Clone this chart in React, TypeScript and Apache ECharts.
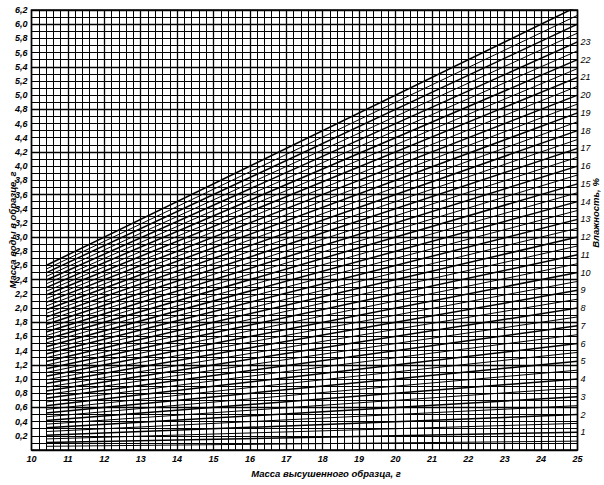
import React, { useEffect, useRef } from "react";
import * as echarts from "echarts";

// Moisture lines of the nomogram, % (water mass = moisture% × dry mass / 100)
const moisturePercents: number[] = [
  0.5, 1, 1.5, 2, 2.5, 3, 3.5, 4, 4.5, 5, 5.5, 6, 6.5, 7, 7.5, 8, 8.5, 9, 9.5, 10,
  10.5, 11, 11.5, 12, 12.5, 13, 13.5, 14, 14.5, 15, 15.5, 16, 16.5, 17, 17.5, 18,
  18.5, 19, 19.5, 20, 20.5, 21, 21.5, 22, 22.5, 23, 23.5, 24, 24.5, 25,
];
// Lines that carry a percent label on the right
const labeledPercents: number[] = [
  1, 2, 3, 4, 5, 6, 7, 8, 9, 10, 11, 12, 13, 14, 15, 16, 17, 18, 19, 20, 21, 22, 23,
];
// Dry-mass range over which the lines are drawn, g
const dryMassStart = 10.4;
const dryMassEnd = 25;
// Axis ranges
const xMin = 10;
const xMax = 25;
const yMin = 0;
const yMax = 6.2;

const xName = "Масса высушенного образца, г";
const yName = "Масса воды в образце, г";
const rightName = "Влажность, %";

const FONT = "'Liberation Sans', Arial, sans-serif";

export default function App() {
  const ref = useRef<HTMLDivElement>(null);

  useEffect(() => {
    if (!ref.current) return;
    const chart = echarts.init(ref.current, undefined, { renderer: "svg" });

    const series: any[] = moisturePercents.map((p) => {
      const isInt = Math.abs(p - Math.round(p)) < 1e-9;
      const labeled = labeledPercents.indexOf(p) >= 0;
      return {
        type: "line",
        name: String(p),
        symbol: "none",
        clip: true,
        silent: true,
        data: [
          [dryMassStart, (p * dryMassStart) / 100],
          [dryMassEnd, (p * dryMassEnd) / 100],
        ],
        lineStyle: { color: "#000", width: isInt ? 1.5 : 1.0 },
        endLabel: labeled
          ? {
              show: true,
              formatter: String(p),
              distance: 3,
              color: "#000",
              fontFamily: FONT,
              fontStyle: "italic",
              fontSize: 9,
            }
          : { show: false },
      };
    });

    const labelStyle = {
      color: "#000",
      fontFamily: FONT,
      fontStyle: "italic" as const,
      fontWeight: "bold" as const,
      fontSize: 9,
    };

    chart.setOption({
      animation: false,
      backgroundColor: "#fff",
      grid: {
        left: 31.5,
        right: 26.5,
        top: 10,
        bottom: 35,
        show: true,
        borderColor: "#000",
        borderWidth: 1.5,
        backgroundColor: "transparent",
      },
      xAxis: {
        type: "value",
        min: xMin,
        max: xMax,
        interval: 1,
        axisLine: { show: false },
        axisTick: { show: false },
        axisLabel: { ...labelStyle, margin: 4, showMinLabel: true, showMaxLabel: true },
        splitLine: { show: true, lineStyle: { color: "#000", width: 1.3 } },
        minorTick: { show: false, splitNumber: 5 },
        minorSplitLine: { show: true, lineStyle: { color: "#000", width: 1 } },
      },
      yAxis: [
        {
          type: "value",
          min: yMin,
          max: yMax,
          interval: 0.2,
          axisLine: { show: false },
          axisTick: { show: false },
          axisLabel: {
            ...labelStyle,
            margin: 4,
            formatter: (v: number) =>
              v < 0.01 ? "" : (Math.round(v * 10) / 10).toFixed(1).replace(".", ","),
          },
          splitLine: { show: true, lineStyle: { color: "#000", width: 1 } },
          minorTick: { show: false, splitNumber: 2 },
          minorSplitLine: { show: true, lineStyle: { color: "#000", width: 1 } },
        },
        {
          type: "value",
          min: yMin,
          max: yMax,
          interval: 0.6,
          position: "left",
          axisLine: { show: false },
          axisTick: { show: false },
          axisLabel: { show: false },
          splitLine: { show: true, lineStyle: { color: "#000", width: 1.4 } },
        },
      ],
      graphic: [
        {
          type: "text",
          x: 326,
          y: 473,
          style: {
            text: xName,
            fill: "#000",
            font: `italic bold 9.5px ${FONT}`,
            textAlign: "center",
            textVerticalAlign: "middle",
          },
        },
        {
          type: "text",
          x: 12,
          y: 230,
          rotation: Math.PI / 2,
          style: {
            text: yName,
            fill: "#000",
            font: `italic bold 9.5px ${FONT}`,
            textAlign: "center",
            textVerticalAlign: "middle",
          },
        },
        {
          type: "text",
          x: 595,
          y: 213,
          rotation: Math.PI / 2,
          style: {
            text: rightName,
            fill: "#000",
            font: `italic bold 9.5px ${FONT}`,
            textAlign: "center",
            textVerticalAlign: "middle",
          },
        },
      ],
      series,
    });

    return () => chart.dispose();
  }, []);

  return (
    <div
      ref={ref}
      style={{ position: "fixed", left: 0, top: 0, width: 604, height: 485, background: "#fff" }}
    />
  );
}
